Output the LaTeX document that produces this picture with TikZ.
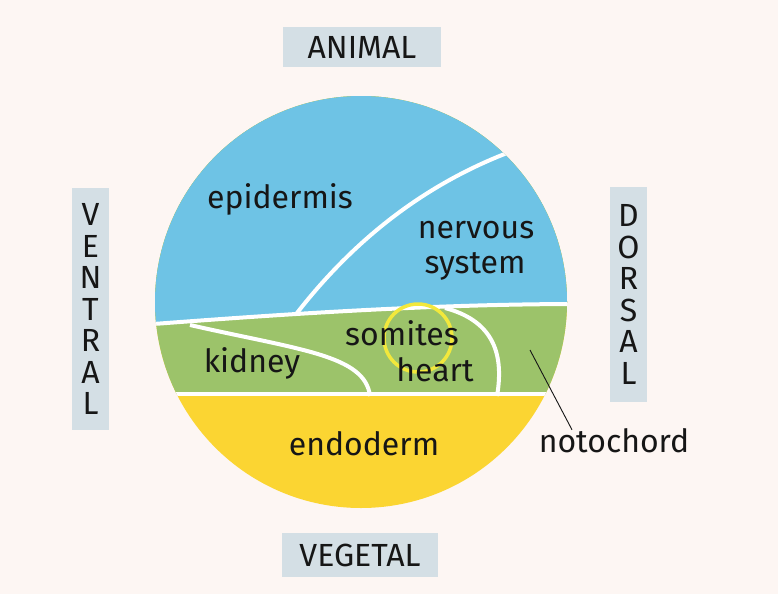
\documentclass[tikz,border=0pt]{standalone}
\usepackage{fontspec}
\setmainfont{Fira Sans}
\definecolor{bg}{HTML}{FDF6F3}
\definecolor{epi}{HTML}{6EC3E5}
\definecolor{meso}{HTML}{9CC36A}
\definecolor{endo}{HTML}{FBD532}
\definecolor{tagbox}{HTML}{D4DFE5}
\definecolor{ink}{HTML}{161616}
\definecolor{ring}{HTML}{F2E83C}
\begin{document}
\begin{tikzpicture}[x=1pt,y=-1pt,
  lab/.style={text=ink, font=\fontsize{32}{33}\selectfont, inner sep=0pt, anchor=base},
  tag/.style={fill=tagbox, inner sep=0pt, text=ink, font=\fontsize{32}{31.5}\selectfont, align=center},
  wline/.style={white, line width=4pt},
  pointer/.style={ink, line width=0.9pt}]
\fill[bg] (0,0) rectangle (778,594);
\useasboundingbox (0,0) rectangle (778,594);

\coordinate (C) at (361,302);
\begin{scope}
  \clip (C) circle (206pt);
  \fill[endo] (100,90) rectangle (620,520);
  \fill[meso] (100,90) rectangle (620,394);
  \fill[epi] (100,90) -- (100,325) -- (140,325) .. controls (260,316) and (420,304) .. (580,304) -- (620,304) -- (620,90) -- cycle;
  % boundaries
  \draw[wline] (140,325) .. controls (260,316) and (420,304) .. (580,304);
  \draw[wline] (297,313) .. controls (350,245) and (420,185) .. (515,150);
  \draw[wline] (100,394) -- (620,394);
  \draw[wline] (190,325) .. controls (300,350) and (365,355) .. (370,396);
  \draw[wline] (445,308) .. controls (490,320) and (505,350) .. (497,396);
\end{scope}

% cursor highlight ring
\draw[ring, line width=3.5pt] (418,338) circle (34pt);

% region labels
\node[lab] (epidermis) at (280,208) {epidermis};
\node[lab] (nervous) at (476,238) {nervous};
\node[lab] (system) at (475,273) {system};
\node[lab] (kidney) at (252,372) {kidney};
\node[lab] (somites) at (402,345) {somites};
\node[lab] (heart) at (435,381) {heart};
\node[lab] (endoderm) at (364,455) {endoderm};
\node[lab] (noto) at (614,452) {notochord};

\coordinate (np) at (530,350);
\draw[pointer] (np) -- ([xshift=-42pt,yshift=-2pt]noto.north);

% orientation tags
\node[tag, minimum width=158pt, minimum height=40pt] (animal) at (362,47) {ANIMAL};
\node[tag, minimum width=156pt, minimum height=44pt] (vegetal) at (360,555) {VEGETAL};
\node[tag, minimum width=37pt, minimum height=242pt] (ventral) at (90.5,309) {V\\E\\N\\T\\R\\A\\L};
\node[tag, minimum width=37pt, minimum height=215pt] (dorsal) at (628.5,294.5) {D\\O\\R\\S\\A\\L};
\end{tikzpicture}
\end{document}
